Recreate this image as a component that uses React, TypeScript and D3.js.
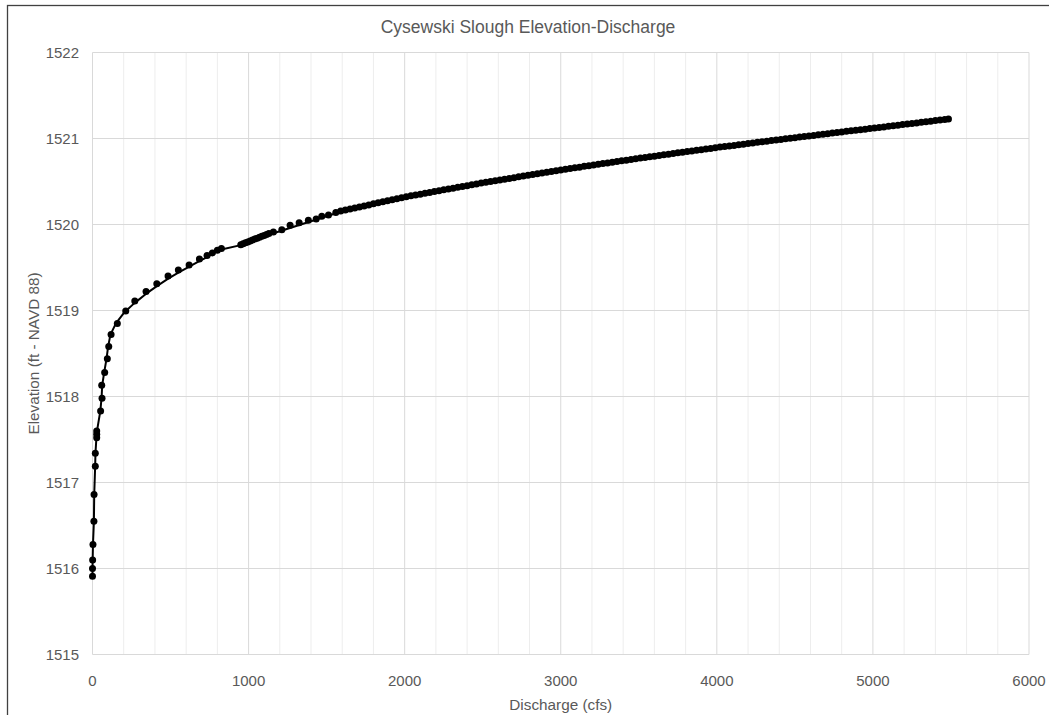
import React from "react";
import * as d3 from "d3";

// Observed points (discharge cfs, elevation ft)
const lowObs: [number, number][] = [
  [0, 1515.91], [0, 1516.0], [1, 1516.1], [3, 1516.28], [9, 1516.55], [10, 1516.86],
  [18, 1517.19], [18, 1517.34], [27, 1517.52], [27, 1517.56], [27, 1517.6],
  [52, 1517.83], [61, 1517.98], [59, 1518.13], [78, 1518.28], [95, 1518.44],
  [104, 1518.58], [119, 1518.72], [159, 1518.85], [213, 1518.995], [271, 1519.11],
  [343, 1519.22], [412, 1519.31], [484, 1519.4], [550, 1519.47], [619, 1519.53],
  [685, 1519.6], [734, 1519.64], [768, 1519.67], [800, 1519.7], [826, 1519.72],
];

const clusterObs: [number, number][] = [
  [950, 1519.765], [965, 1519.776], [980, 1519.787], [995, 1519.797], [1010, 1519.808],
  [1025, 1519.819], [1040, 1519.83], [1055, 1519.841], [1070, 1519.852], [1085, 1519.862],
  [1100, 1519.873], [1115, 1519.884], [1130, 1519.895], [1159, 1519.914], [1213, 1519.94],
  [1266, 1519.99], [1324, 1520.02], [1383, 1520.05], [1433, 1520.065], [1469, 1520.095],
  [1512, 1520.11], [1559, 1520.14],
];

const denseObs: [number, number][] = [
  [1590, 1520.156], [1620, 1520.168], [1650, 1520.18], [1680, 1520.192], [1710, 1520.204],
  [1740, 1520.216], [1770, 1520.228], [1800, 1520.24], [1830, 1520.252], [1860, 1520.264],
  [1890, 1520.276], [1920, 1520.288], [1950, 1520.3], [1980, 1520.312], [2010, 1520.323],
  [2040, 1520.333], [2070, 1520.343], [2100, 1520.353], [2130, 1520.363], [2160, 1520.373],
  [2190, 1520.383], [2220, 1520.393], [2250, 1520.403], [2280, 1520.412], [2310, 1520.422],
  [2340, 1520.432], [2370, 1520.442], [2400, 1520.452], [2430, 1520.462], [2460, 1520.472],
  [2490, 1520.482], [2520, 1520.491], [2550, 1520.5], [2580, 1520.509], [2610, 1520.518],
  [2640, 1520.527], [2670, 1520.536], [2700, 1520.545], [2730, 1520.554], [2760, 1520.563],
  [2790, 1520.572], [2820, 1520.581], [2850, 1520.59], [2880, 1520.599], [2910, 1520.608],
  [2940, 1520.617], [2970, 1520.626], [3000, 1520.635], [3030, 1520.643], [3060, 1520.651],
  [3090, 1520.659], [3120, 1520.667], [3150, 1520.676], [3180, 1520.684], [3210, 1520.692],
  [3240, 1520.7], [3270, 1520.708], [3300, 1520.716], [3330, 1520.724], [3360, 1520.732],
  [3390, 1520.74], [3420, 1520.748], [3450, 1520.757], [3480, 1520.765], [3510, 1520.773],
  [3540, 1520.78], [3570, 1520.788], [3600, 1520.795], [3630, 1520.803], [3660, 1520.81],
  [3690, 1520.818], [3720, 1520.825], [3750, 1520.833], [3780, 1520.84], [3810, 1520.848],
  [3840, 1520.855], [3870, 1520.863], [3900, 1520.87], [3930, 1520.878], [3960, 1520.885],
  [3990, 1520.893], [4020, 1520.9], [4050, 1520.907], [4080, 1520.913], [4110, 1520.92],
  [4140, 1520.927], [4170, 1520.934], [4200, 1520.941], [4230, 1520.948], [4260, 1520.955],
  [4290, 1520.962], [4320, 1520.969], [4350, 1520.976], [4380, 1520.982], [4410, 1520.989],
  [4440, 1520.996], [4470, 1521.003], [4500, 1521.01], [4530, 1521.017], [4560, 1521.023],
  [4590, 1521.03], [4620, 1521.036], [4650, 1521.043], [4680, 1521.05], [4710, 1521.056],
  [4740, 1521.063], [4770, 1521.069], [4800, 1521.076], [4830, 1521.083], [4860, 1521.089],
  [4890, 1521.096], [4920, 1521.102], [4950, 1521.109], [4980, 1521.116], [5010, 1521.122],
  [5040, 1521.129], [5070, 1521.135], [5100, 1521.142], [5130, 1521.148], [5160, 1521.155],
  [5190, 1521.162], [5220, 1521.168], [5250, 1521.175], [5280, 1521.181], [5310, 1521.188],
  [5340, 1521.194], [5370, 1521.201], [5400, 1521.208], [5430, 1521.214], [5460, 1521.221],
  [5484, 1521.226],
];

// Rating curve line (lower part; continues along the dense band)
const ratingLow: [number, number][] = [
  [0, 1515.91], [0, 1516.0], [1, 1516.1], [3, 1516.28], [9, 1516.55], [11, 1516.86],
  [17, 1517.19], [19, 1517.34], [27, 1517.58], [50, 1517.83], [58, 1517.98], [62, 1518.13],
  [75, 1518.28], [90, 1518.44], [100, 1518.58], [115, 1518.72], [150, 1518.85],
  [205, 1518.98], [265, 1519.08], [340, 1519.19], [410, 1519.28], [485, 1519.37],
  [550, 1519.44], [620, 1519.51], [690, 1519.58], [735, 1519.62], [770, 1519.66],
  [800, 1519.69], [826, 1519.71], [950, 1519.76], [1130, 1519.88], [1560, 1520.13],
];

const xTicks = [0, 1000, 2000, 3000, 4000, 5000, 6000];
const xMinorTicks = [200, 400, 600, 800, 1200, 1400, 1600, 1800, 2200, 2400, 2600, 2800, 3200, 3400, 3600, 3800, 4200, 4400, 4600, 4800, 5200, 5400, 5600, 5800];
const yTicks = [1515, 1516, 1517, 1518, 1519, 1520, 1521, 1522];

const title = "Cysewski Slough Elevation-Discharge";
const xTitle = "Discharge (cfs)";
const yTitle = "Elevation (ft - NAVD 88)";

export default function App() {
  const W = 1049, H = 715;
  const left = 92.5, right = 1029, top = 52.5, bottom = 654.5;
  const x = d3.scaleLinear().domain([0, 6000]).range([left, right]);
  const y = d3.scaleLinear().domain([1515, 1522]).range([bottom, top]);
  const allObs = [...lowObs, ...clusterObs, ...denseObs];
  const linePts = [...ratingLow, ...denseObs];
  const line = d3.line<[number, number]>().x(d => x(d[0])).y(d => y(d[1]));
  const font = "'Liberation Sans', Arial, sans-serif";
  const txt = "#595959";
  return (
    <svg width={W} height={H} style={{ position: "absolute", left: 0, top: 0, background: "#fff" }}>
      <rect x={0} y={0} width={W} height={H} fill="#fff" />
      <rect x={7.5} y={5.5} width={1100} height={800} fill="#fff" stroke="#404040" strokeWidth={1.3} />
      {xMinorTicks.map(t => (
        <line key={"m" + t} x1={x(t)} x2={x(t)} y1={top} y2={bottom} stroke="#ededed" strokeWidth={1} />
      ))}
      {xTicks.map(t => (
        <line key={"x" + t} x1={x(t)} x2={x(t)} y1={top} y2={bottom} stroke="#d9d9d9" strokeWidth={1} />
      ))}
      {yTicks.map(t => (
        <line key={"y" + t} x1={left} x2={right} y1={y(t)} y2={y(t)} stroke="#d9d9d9" strokeWidth={1} />
      ))}
      {xTicks.map(t => (
        <text key={"xl" + t} x={x(t)} y={bottom + 31} textAnchor="middle" fontFamily={font} fontSize={15} fill={txt}>{t}</text>
      ))}
      {yTicks.map(t => (
        <text key={"yl" + t} x={79} y={y(t) + 5.4} textAnchor="end" fontFamily={font} fontSize={15} fill={txt}>{t}</text>
      ))}
      <path d={line(linePts) || ""} fill="none" stroke="#000" strokeWidth={2} strokeLinejoin="round" />
      {allObs.map((d, i) => (
        <circle key={"p" + i} cx={x(d[0])} cy={y(d[1])} r={3.5} fill="#000" />
      ))}
      <text x={528} y={33} textAnchor="middle" fontFamily={font} fontSize={17.5} fill={txt}>{title}</text>
      <text x={(left + right) / 2} y={710} textAnchor="middle" fontFamily={font} fontSize={15.3} fill={txt}>{xTitle}</text>
      <text transform={`translate(38.5, ${(top + bottom) / 2}) rotate(-90)`} textAnchor="middle" fontFamily={font} fontSize={15.3} fill={txt}>{yTitle}</text>
    </svg>
  );
}
